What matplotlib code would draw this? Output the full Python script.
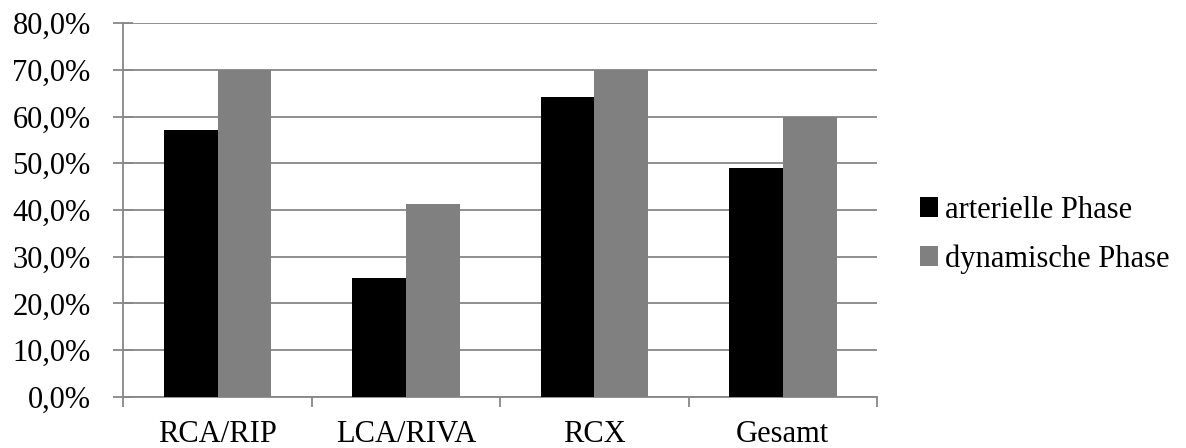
import matplotlib
matplotlib.use("Agg")
import matplotlib.pyplot as plt
import numpy as np
from matplotlib.ticker import FuncFormatter, FixedLocator

categories = ["RCA/RIP", "LCA/RIVA", "RCX", "Gesamt"]
arterielle = [57.1, 25.4, 64.3, 48.9]
dynamische = [70.0, 41.3, 70.0, 60.0]
series_names = ["arterielle Phase", "dynamische Phase"]

plt.rcParams["font.family"] = ["Liberation Serif", "DejaVu Serif"]

fig = plt.figure(figsize=(11.86, 4.48), dpi=100)
ax = fig.add_axes([123.3 / 1186, 1 - 396.7 / 448, (877 - 123.3) / 1186, (396.7 - 23.3) / 448])

x = np.arange(len(categories))
bw = 1 / 3.5
grid_col = "#878787"
ax.bar(x - bw / 2, arterielle, bw, color="black", label=series_names[0], zorder=3)
ax.bar(x + bw / 2, dynamische, bw, color="#808080", label=series_names[1], zorder=3)

ax.set_xlim(-0.5, len(categories) - 0.5)
ax.set_ylim(0, 80)
ax.set_yticks(np.arange(0, 81, 10))
ax.yaxis.set_major_formatter(FuncFormatter(lambda v, p: f"{v:.1f}%".replace(".", ",")))
ax.grid(axis="y", color=grid_col, linewidth=1.3, zorder=0)

ax.set_xticks(x)
ax.set_xticklabels(categories)
ax.xaxis.set_minor_locator(FixedLocator(np.arange(-0.5, len(categories), 1)))
ax.tick_params(axis="x", which="major", length=0, pad=17, labelsize=22)
ax.tick_params(axis="x", which="minor", length=7, width=1.3, color=grid_col, direction="out")
ax.tick_params(axis="y", length=15, width=1.3, color=grid_col, direction="inout", pad=16, labelsize=22)

for s in ["top", "right"]:
    ax.spines[s].set_visible(False)
for s in ["left", "bottom"]:
    ax.spines[s].set_color(grid_col)
    ax.spines[s].set_linewidth(1.3)

leg = ax.legend(loc="center left", bbox_to_anchor=(1.02, 0.434), frameon=False, fontsize=22,
                handlelength=0.6, handleheight=0.6, handletextpad=0.22, labelspacing=0.64)

fig.savefig("out.png", dpi=100)
